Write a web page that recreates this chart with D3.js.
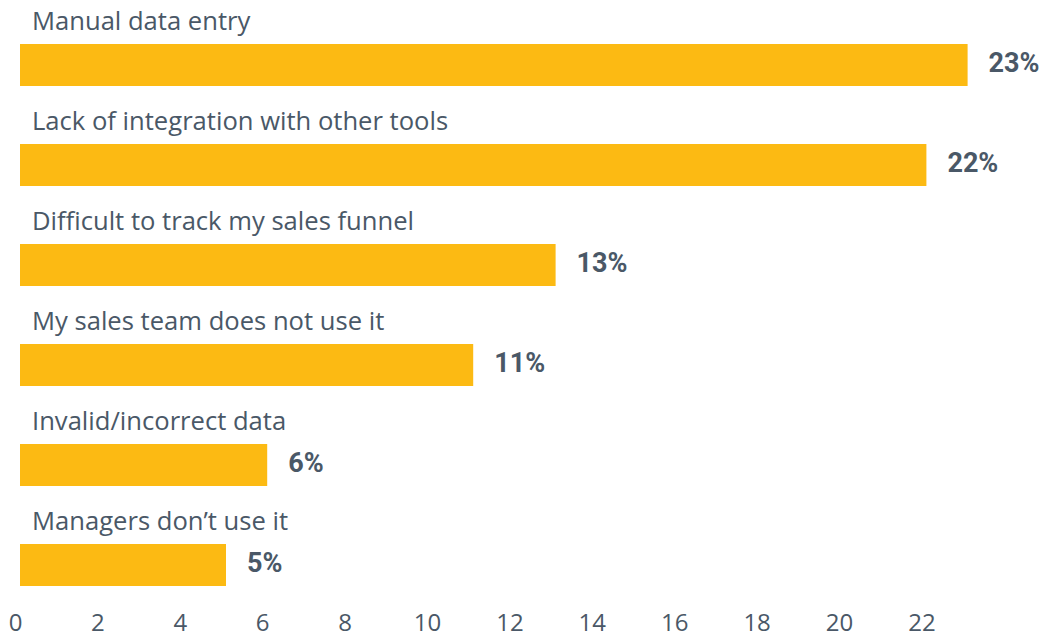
<!DOCTYPE html>
<html><head><meta charset="utf-8">
<script src="https://cdn.jsdelivr.net/npm/d3@7"></script>
<style>body{margin:0;background:#fff;} svg{display:block;}</style>
</head><body>
<svg id="chart" width="1045" height="638"></svg>
<script>
const categories = ["Manual data entry","Lack of integration with other tools","Difficult to track my sales funnel","My sales team does not use it","Invalid/incorrect data","Managers don\u2019t use it"];
const values = [23,22,13,11,6,5];
const valueLabels = ["23%","22%","13%","11%","6%","5%"];
const tickValues = [0,2,4,6,8,10,12,14,16,18,20,22];

const svg = d3.select("#chart");
const textColor = "#4a5867";
const barColor = "#fcba13";
const x = d3.scaleLinear().domain([0,23]).range([20, 20 + 23*41.2]);
const y = d3.scaleBand().domain(categories).range([44, 644]).paddingInner(0).paddingOuter(0);
const barH = 42;

const g = svg.append("g");
const rows = g.selectAll("g.row").data(categories).join("g").attr("class","row")
  .attr("transform", d => `translate(0,${y(d)})`);
rows.append("rect").attr("x", x(0)).attr("y", 0)
  .attr("width", (d,i) => x(values[i]) - x(0)).attr("height", barH).attr("fill", barColor);
rows.append("text").attr("x", 32).attr("y", -14).attr("font-family","Open Sans").attr("font-size", 25.6)
  .attr("fill", textColor).text(d => d);
rows.append("text").attr("x", (d,i) => x(values[i]) + 21).attr("y", 28).attr("font-family","Roboto")
  .attr("font-weight","bold").attr("font-size", 27).attr("fill", textColor).text((d,i) => valueLabels[i]);

const axis = d3.axisBottom(x).tickValues(tickValues).tickSize(0).tickPadding(0).tickFormat(d3.format("d"));
const ag = svg.append("g").attr("transform","translate(-5,609)").call(axis);
ag.select(".domain").remove();
ag.selectAll("text").attr("font-family","Open Sans").attr("font-size",24).attr("fill",textColor).attr("dy","0.9em").attr("y",0);
</script>
</body></html>
